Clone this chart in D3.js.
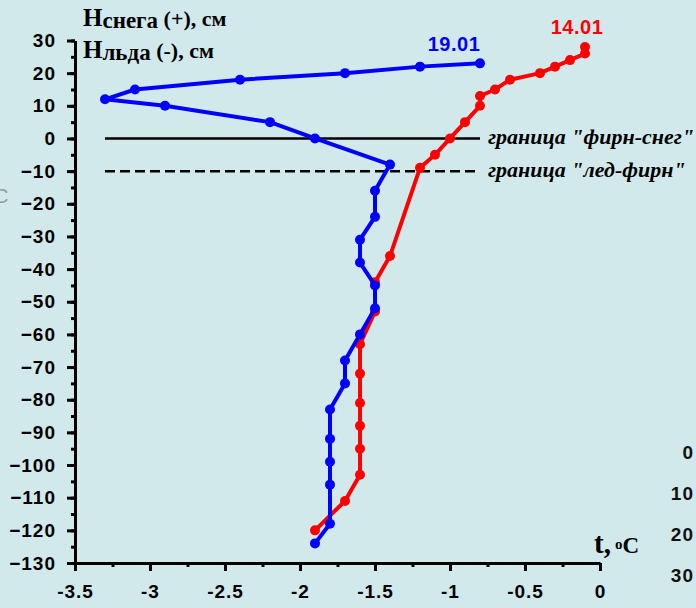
<!DOCTYPE html>
<html>
<head>
<meta charset="utf-8">
<script src="https://cdn.jsdelivr.net/npm/d3@7"></script>
<style>
  body { margin: 0; background: #d2e9ec; }
  svg { display: block; }
  .tick text { font-family: "Liberation Sans", Arial, sans-serif; font-weight: bold; font-size: 19px; letter-spacing: 1px; fill: #000; }
</style>
</head>
<body>
<svg id="chart"></svg>
<script>
// 19.01 profile (blue)
var blueT = [-0.8, -1.2, -1.7, -2.4, -3.1, -3.3, -2.9, -2.2, -1.9, -1.4, -1.5, -1.5, -1.6, -1.6, -1.5, -1.5, -1.6, -1.7, -1.7, -1.8, -1.8, -1.8, -1.8, -1.8, -1.9];
var blueH = [23, 22, 20, 18, 15, 12, 10, 5, 0, -8, -16, -24, -31, -38, -45, -52, -60, -68, -75, -83, -92, -99, -106, -118, -124];

// 14.01 profile (red)
var redT = [-0.1, -0.1, -0.2, -0.3, -0.4, -0.6, -0.7, -0.8, -0.8, -0.9, -1.0, -1.1, -1.2, -1.4, -1.5, -1.5, -1.6, -1.6, -1.6, -1.6, -1.6, -1.6, -1.7, -1.9];
var redH = [28, 26, 24, 22, 20, 18, 15, 13, 10, 5, 0, -5, -9, -36, -44, -53, -63, -72, -81, -88, -95, -103, -111, -120];

var xTicks = [-3.5, -3, -2.5, -2, -1.5, -1, -0.5, 0];
var yTicks = [30, 20, 10, 0, -10, -20, -30, -40, -50, -60, -70, -80, -90, -100, -110, -120, -130];

// boundaries: level + label
var bounds = [
  { h: 0, label: 'граница "фирн-снег"', dash: null },
  { h: -10, label: 'граница "лед-фирн"', dash: "10,5" }
];
var boundFrom = -3.3, boundTo = -0.8;

// cut-off labels on the right edge
var sideLabels = ["0", "10", "20", "30"];

var width = 696, height = 608;

var svg = d3.select("#chart").attr("width", width).attr("height", height);

svg.append("rect").attr("width", width).attr("height", height).attr("fill", "#d2e9ec");

var x = d3.scaleLinear().domain([-3.5, 0]).range([75, 600]);
var y = d3.scaleLinear().domain([-130, 30]).range([563, 40.5]);

// minor ticks first (under the major ones)
var xMinor = d3.axisBottom(x).tickValues(d3.range(-3.5, 0.01, 0.25)).tickSize(4).tickFormat("");
var yMinor = d3.axisLeft(y).tickValues(d3.range(-130, 31, 5)).tickSize(4).tickFormat("");

svg.append("g").attr("transform", "translate(0,563)").call(xMinor)
  .call(g => g.selectAll("line").attr("stroke", "#000").attr("stroke-width", 3))
  .call(g => g.select(".domain").remove());
svg.append("g").attr("transform", "translate(75,0)").call(yMinor)
  .call(g => g.selectAll("line").attr("stroke", "#000").attr("stroke-width", 3))
  .call(g => g.select(".domain").remove());

var xAxis = d3.axisBottom(x).tickValues(xTicks).tickSize(8).tickSizeOuter(0).tickPadding(14)
  .tickFormat(d => d === 0 ? "0" : String(d));
var yAxis = d3.axisLeft(y).tickValues(yTicks).tickSize(8).tickSizeOuter(0).tickPadding(11);

svg.append("g").attr("transform", "translate(0,563)").call(xAxis)
  .call(g => g.select(".domain").attr("stroke-width", 3).attr("stroke", "#000"))
  .call(g => g.selectAll(".tick line").attr("stroke-width", 3).attr("stroke", "#000"));
svg.append("g").attr("transform", "translate(75,0)").call(yAxis)
  .call(g => g.select(".domain").attr("stroke-width", 3).attr("stroke", "#000"))
  .call(g => g.selectAll(".tick line").attr("stroke-width", 3).attr("stroke", "#000"));

// boundary lines
bounds.forEach(function(b) {
  svg.append("line")
    .attr("x1", x(boundFrom)).attr("x2", x(boundTo))
    .attr("y1", y(b.h)).attr("y2", y(b.h))
    .attr("stroke", "#000").attr("stroke-width", 2.5)
    .attr("stroke-dasharray", b.dash);
  svg.append("text")
    .attr("x", x(boundTo) + 8).attr("y", y(b.h) + 6)
    .attr("font-family", "Liberation Serif, Times New Roman, serif")
    .attr("font-style", "italic").attr("font-weight", "bold")
    .attr("font-size", 22).attr("fill", "#000")
    .text(b.label);
});

var line = d3.line().x(d => x(d[0])).y(d => y(d[1]));

function drawSeries(ts, hs, color) {
  var pts = ts.map((t, i) => [t, hs[i]]);
  svg.append("path").datum(pts)
    .attr("d", line).attr("fill", "none")
    .attr("stroke", color).attr("stroke-width", 4).attr("stroke-linejoin", "round");
  svg.selectAll(null).data(pts).enter().append("circle")
    .attr("cx", d => x(d[0])).attr("cy", d => y(d[1]))
    .attr("r", 5).attr("fill", color);
}

drawSeries(redT, redH, "#ff0000");
drawSeries(blueT, blueH, "#0000ff");

// series labels
svg.append("text").attr("x", 454).attr("y", 51)
  .attr("text-anchor", "middle")
  .attr("font-family", "Liberation Sans, Arial, sans-serif").attr("font-weight", "bold")
  .attr("font-size", 20).attr("letter-spacing", 0.5).attr("fill", "#0000ff").text("19.01");
svg.append("text").attr("x", 577).attr("y", 34)
  .attr("text-anchor", "middle")
  .attr("font-family", "Liberation Sans, Arial, sans-serif").attr("font-weight", "bold")
  .attr("font-size", 20).attr("letter-spacing", 0.5).attr("fill", "#ff0000").text("14.01");

// y title (two lines with subscripts)
var serif = "Liberation Serif, Times New Roman, serif";
[["снега", " (+), см", 26], ["льда", " (-), см", 58]].forEach(function(r) {
  var t = svg.append("text").attr("x", 83).attr("y", r[2])
    .attr("font-family", serif).attr("font-weight", "bold").attr("fill", "#000");
  t.append("tspan").attr("font-size", 25).text("Н");
  t.append("tspan").attr("font-size", 23).attr("dy", 2).text(r[0]);
  t.append("tspan").attr("font-size", 22).attr("dy", -2).text(r[1]);
});

// x title
var xt = svg.append("text").attr("x", 594).attr("y", 553)
  .attr("font-family", serif).attr("font-weight", "bold").attr("fill", "#000");
xt.append("tspan").attr("font-size", 29).text("t,");
xt.append("tspan").attr("font-size", 15).attr("dx", 4).attr("dy", -4).text("o");
xt.append("tspan").attr("font-size", 23).attr("dy", 4).text("C");

// partial "C" at the left edge
svg.append("text").attr("x", -6).attr("y", 203)
  .attr("font-family", "Liberation Sans, Arial, sans-serif")
  .attr("font-size", 20).attr("fill", "#999").text("C");

// cut-off axis labels at right edge
svg.selectAll(".side").data(sideLabels).enter().append("text")
  .attr("x", 694).attr("y", (d, i) => 459 + i * 41)
  .attr("text-anchor", "end")
  .attr("font-family", "Liberation Sans, Arial, sans-serif").attr("font-weight", "bold")
  .attr("font-size", 19).attr("letter-spacing", 1).attr("fill", "#111").text(d => d);
</script>
</body>
</html>
